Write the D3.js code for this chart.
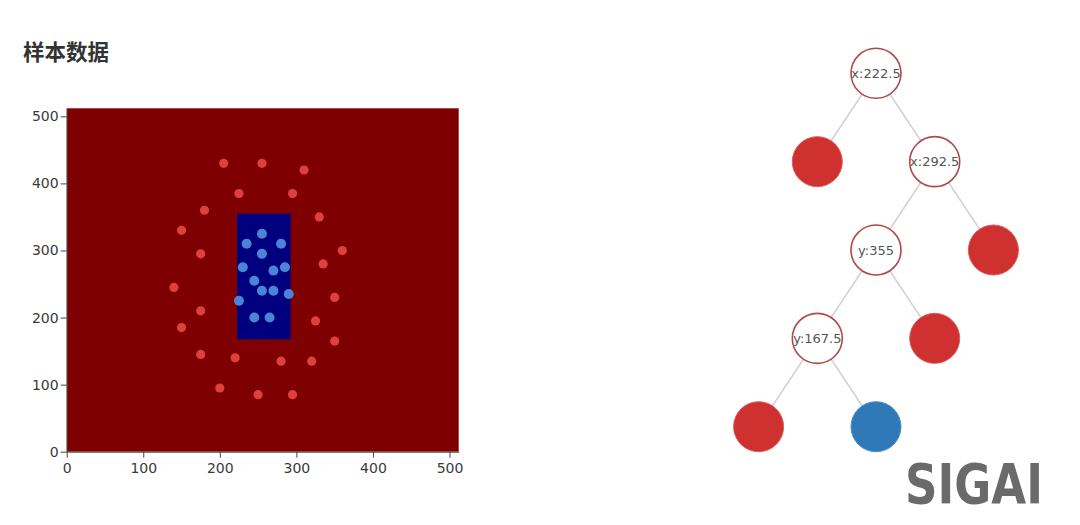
<!DOCTYPE html>
<html>
<head>
<meta charset="utf-8">
<script src="https://cdn.jsdelivr.net/npm/d3@7"></script>
<style>
  html, body { margin: 0; padding: 0; background: #fff; }
  svg { display: block; }
</style>
</head>
<body>
<svg id="chart" width="1080" height="525"></svg>
<script>
// ---------- data ----------
const title = "样本数据";
const axisTicks = [0, 100, 200, 300, 400, 500];
const domainMax = 512;

const redX = [205, 255, 310, 225, 295, 180, 330, 150, 360, 175, 335, 140, 350, 175, 150, 325, 350, 175, 220, 280, 320, 200, 250, 295];
const redY = [430, 430, 420, 385, 385, 360, 350, 330, 300, 295, 280, 245, 230, 210, 185, 195, 165, 145, 140, 135, 135, 95, 85, 85];

const blueX = [255, 235, 280, 255, 230, 270, 285, 245, 255, 270, 290, 225, 245, 265];
const blueY = [325, 310, 310, 295, 275, 270, 275, 255, 240, 240, 235, 225, 200, 200];

const regionX = [222.5, 292.5];
const regionY = [167.5, 355];

const treeIds     = ["n0", "n1", "n2", "n3", "n4", "n5", "n6", "n7", "n8"];
const treeParents = ["",   "n0", "n0", "n2", "n2", "n3", "n3", "n5", "n5"];
const treeLabels  = ["x:222.5", "", "x:292.5", "y:355", "", "y:167.5", "", "", ""];
const treeClasses = ["split", "red", "split", "split", "red", "split", "red", "red", "blue"];

// ---------- styles ----------
const svg = d3.select("#chart");
const bgColor = "#7f0000";
const regionColor = "#00007f";
const redDot = "#de3f3f";
const blueDot = "#4a84d6";

// title
svg.append("text")
  .attr("x", 23).attr("y", 60)
  .attr("font-family", "'Noto Sans CJK SC', sans-serif")
  .attr("font-weight", "bold")
  .attr("font-size", 21.5)
  .attr("fill", "#333")
  .text(title);

// ---------- scatter ----------
const plot = { left: 66.7, right: 458.7, top: 108.3, bottom: 451.7 };
const x = d3.scaleLinear().domain([0, domainMax]).range([plot.left, plot.right]);
const y = d3.scaleLinear().domain([0, domainMax]).range([plot.bottom, plot.top]);

svg.append("rect")
  .attr("x", x(0)).attr("y", y(domainMax))
  .attr("width", x(domainMax) - x(0)).attr("height", y(0) - y(domainMax))
  .attr("fill", bgColor);

svg.append("rect")
  .attr("x", x(regionX[0])).attr("y", y(regionY[1]))
  .attr("width", x(regionX[1]) - x(regionX[0]))
  .attr("height", y(regionY[0]) - y(regionY[1]))
  .attr("fill", regionColor);

svg.append("g").selectAll("circle")
  .data(redX.map((v, i) => [v, redY[i]]))
  .join("circle")
  .attr("cx", d => x(d[0])).attr("cy", d => y(d[1]))
  .attr("r", 4.6).attr("fill", redDot);

svg.append("g").selectAll("circle")
  .data(blueX.map((v, i) => [v, blueY[i]]))
  .join("circle")
  .attr("cx", d => x(d[0])).attr("cy", d => y(d[1]))
  .attr("r", 5).attr("fill", blueDot);

const axisFont = "'DejaVu Sans', Verdana, sans-serif";
const xAxis = svg.append("g")
  .attr("transform", `translate(0,${plot.bottom})`)
  .call(d3.axisBottom(x).tickValues(axisTicks).tickSize(6).tickSizeOuter(0));
const yAxis = svg.append("g")
  .attr("transform", `translate(${plot.left},0)`)
  .call(d3.axisLeft(y).tickValues(axisTicks).tickSize(6).tickSizeOuter(0));
[xAxis, yAxis].forEach(a => {
  a.selectAll("text").attr("font-family", axisFont).attr("font-size", 14).attr("fill", "#3a3a3a");
  a.selectAll("line").attr("stroke", "#444");
  a.select(".domain").attr("stroke", "#444");
});
xAxis.selectAll("text").attr("dy", "0.85em");
yAxis.selectAll("text").attr("x", -8);

// ---------- tree ----------
const root = d3.stratify()
  .id(d => d.id)
  .parentId(d => d.parent || null)(
    treeIds.map((id, i) => ({ id, parent: treeParents[i], label: treeLabels[i], cls: treeClasses[i] }))
  );
const treeLayout = d3.tree()
  .nodeSize([117.4, 88.35])
  .separation((a, b) => a.parent === b.parent ? 1 : 2);
treeLayout(root);

const tg = svg.append("g").attr("transform", "translate(876,73.3)");
const nodeR = 25;

tg.append("g").selectAll("line")
  .data(root.links())
  .join("line")
  .attr("x1", d => d.source.x).attr("y1", d => d.source.y)
  .attr("x2", d => d.target.x).attr("y2", d => d.target.y)
  .attr("stroke", "#d6d0d3").attr("stroke-width", 1.6);

const nodeFill = { split: "#fff", red: "#cf3030", blue: "#2f79b8" };
const nodeStroke = { split: "#b04848", red: "#e05a5a", blue: "#4a8fcc" };

const nodes = tg.append("g").selectAll("g")
  .data(root.descendants())
  .join("g")
  .attr("transform", d => `translate(${d.x},${d.y})`);

nodes.append("circle")
  .attr("r", nodeR)
  .attr("fill", d => nodeFill[d.data.cls])
  .attr("stroke", d => nodeStroke[d.data.cls])
  .attr("stroke-width", d => d.data.cls === "split" ? 1.6 : 1);

nodes.filter(d => d.data.label)
  .append("text")
  .attr("text-anchor", "middle")
  .attr("dy", "0.36em")
  .attr("font-family", axisFont)
  .attr("font-size", 13)
  .attr("fill", "#555")
  .text(d => d.data.label);

// ---------- logo ----------
svg.append("text")
  .attr("x", 905).attr("y", 503)
  .attr("font-family", "'DejaVu Sans', sans-serif")
  .attr("font-weight", "bold")
  .attr("font-size", 56)
  .attr("textLength", 138)
  .attr("lengthAdjust", "spacingAndGlyphs")
  .attr("fill", "#6a6a6a")
  .text("SIGAI");
</script>
</body>
</html>
